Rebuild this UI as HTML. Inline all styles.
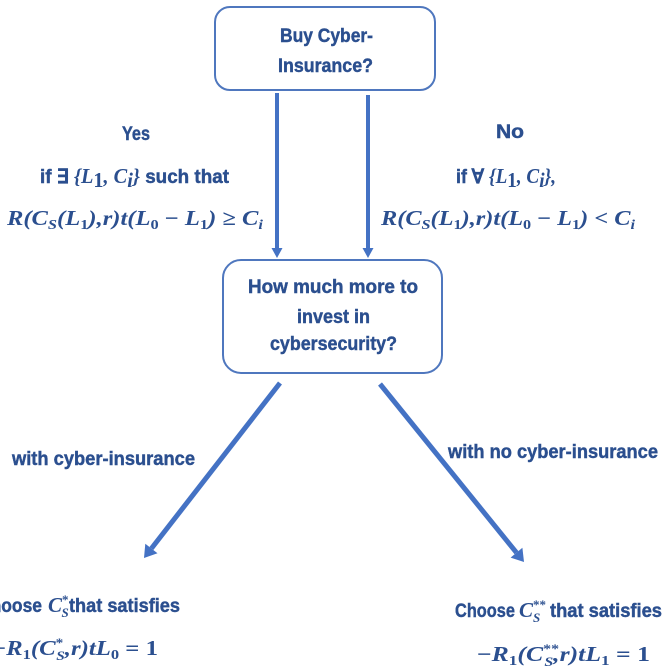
<!DOCTYPE html>
<html>
<head>
<meta charset="utf-8">
<style>
  html,body{margin:0;padding:0;background:#ffffff;}
  body{width:666px;height:669px;overflow:hidden;}
  svg{display:block;}
  .s{font-family:"Liberation Sans",Arial,sans-serif;font-weight:bold;font-size:19.5px;fill:#2B4F8F;stroke:#2B4F8F;stroke-width:0.45px;}
  .m{font-family:"Liberation Serif","DejaVu Serif",serif;font-weight:bold;font-style:italic;font-size:21px;fill:#2B4F8F;stroke:none;}
  .u{font-style:normal;}
</style>
</head>
<body>
<svg width="666" height="669" viewBox="0 0 666 669" xmlns="http://www.w3.org/2000/svg">
  <!-- boxes -->
  <rect x="215" y="7" width="220" height="83" rx="15" ry="15" fill="#fff" stroke="#4F77BE" stroke-width="2"/>
  <rect x="223" y="260" width="219" height="113" rx="18" ry="18" fill="#fff" stroke="#4F77BE" stroke-width="2"/>

  <!-- vertical arrows -->
  <line x1="277" y1="93" x2="277" y2="251" stroke="#4472C4" stroke-width="4"/>
  <polygon points="271.5,248 282.5,248 277,258" fill="#4472C4"/>
  <line x1="368" y1="95" x2="368" y2="251" stroke="#4472C4" stroke-width="4"/>
  <polygon points="362.5,248 373.5,248 368,258" fill="#4472C4"/>

  <!-- diagonal arrows -->
  <line x1="280" y1="383" x2="151.4" y2="548.5" stroke="#4472C4" stroke-width="5"/>
  <polygon points="144,558 157.5,553.3 145.3,543.7" fill="#4472C4"/>
  <line x1="380" y1="384" x2="516.5" y2="552.7" stroke="#4472C4" stroke-width="5"/>
  <polygon points="524,562 510.6,557.6 522.4,547.8" fill="#4472C4"/>

  <!-- box texts -->
  <text class="s" x="280" y="42" textLength="93" lengthAdjust="spacingAndGlyphs">Buy Cyber-</text>
  <text class="s" x="278" y="72" textLength="95" lengthAdjust="spacingAndGlyphs">Insurance?</text>

  <text class="s" x="248" y="293" textLength="170" lengthAdjust="spacingAndGlyphs">How much more to</text>
  <text class="s" x="297" y="323" textLength="73" lengthAdjust="spacingAndGlyphs">invest in</text>
  <text class="s" x="270" y="350" textLength="127" lengthAdjust="spacingAndGlyphs">cybersecurity?</text>

  <!-- Yes branch -->
  <text class="s" x="122" y="140" textLength="28" lengthAdjust="spacingAndGlyphs">Yes</text>
  <text class="s" x="40" y="183" textLength="189" lengthAdjust="spacingAndGlyphs">if ∃ <tspan class="m">{L</tspan><tspan class="m u" font-size="14" dy="4">1</tspan><tspan class="m" dy="-4">, C</tspan><tspan class="m" font-size="14" dy="4">i</tspan><tspan class="m" dy="-4">}</tspan> such that</text>
  <text class="m" x="7" y="225" textLength="256" lengthAdjust="spacingAndGlyphs">R(C<tspan font-size="14" dy="4">S</tspan><tspan dy="-4">(L</tspan><tspan class="u" font-size="14" dy="4">1</tspan><tspan dy="-4">),r)t(L</tspan><tspan class="u" font-size="14" dy="4">0</tspan><tspan dy="-4" class="u"> − </tspan><tspan>L</tspan><tspan class="u" font-size="14" dy="4">1</tspan><tspan dy="-4">) </tspan><tspan class="u">≥</tspan><tspan> C</tspan><tspan font-size="14" dy="4">i</tspan></text>

  <!-- No branch -->
  <text class="s" x="496" y="138" textLength="28" lengthAdjust="spacingAndGlyphs">No</text>
  <text class="s" x="456" y="183" textLength="100" lengthAdjust="spacingAndGlyphs">if ∀ <tspan class="m">{L</tspan><tspan class="m u" font-size="14" dy="4">1</tspan><tspan class="m" dy="-4">, C</tspan><tspan class="m" font-size="14" dy="4">i</tspan><tspan class="m" dy="-4">},</tspan></text>
  <text class="m" x="381" y="225" textLength="254" lengthAdjust="spacingAndGlyphs">R(C<tspan font-size="14" dy="4">S</tspan><tspan dy="-4">(L</tspan><tspan class="u" font-size="14" dy="4">1</tspan><tspan dy="-4">),r)t(L</tspan><tspan class="u" font-size="14" dy="4">0</tspan><tspan dy="-4" class="u"> − </tspan><tspan>L</tspan><tspan class="u" font-size="14" dy="4">1</tspan><tspan dy="-4">) </tspan><tspan class="u">&lt;</tspan><tspan> C</tspan><tspan font-size="14" dy="4">i</tspan></text>

  <!-- diagonal labels -->
  <text class="s" x="12" y="465" textLength="183" lengthAdjust="spacingAndGlyphs">with cyber-insurance</text>
  <text class="s" x="448" y="458" textLength="210" lengthAdjust="spacingAndGlyphs">with no cyber-insurance</text>

  <!-- bottom left -->
  <text class="s" x="-22" y="612" textLength="64" lengthAdjust="spacingAndGlyphs">Choose</text>
  <text class="m" x="48" y="612">C<tspan font-size="13" dy="-8" class="u">*</tspan><tspan font-size="13" dx="-7" dy="13">S</tspan></text>
  <text class="s" x="69" y="612" textLength="111" lengthAdjust="spacingAndGlyphs">that satisfies</text>
  <text class="m" x="-8" y="655" textLength="166" lengthAdjust="spacingAndGlyphs"><tspan class="u">−</tspan>R<tspan class="u" font-size="14" dy="4">1</tspan><tspan dy="-4">(C</tspan><tspan class="u" font-size="13" dy="-8">*</tspan><tspan font-size="13" dx="-6" dy="13">S</tspan><tspan dy="-5">,r)tL</tspan><tspan class="u" font-size="14" dy="4">0</tspan><tspan class="u" dy="-4"> = 1</tspan></text>

  <!-- bottom right -->
  <text class="s" x="455" y="617" textLength="60" lengthAdjust="spacingAndGlyphs">Choose</text>
  <text class="m" x="519" y="617">C<tspan font-size="13" dy="-8" class="u">**</tspan><tspan font-size="13" dx="-13" dy="13">S</tspan></text>
  <text class="s" x="550" y="617" textLength="112" lengthAdjust="spacingAndGlyphs">that satisfies</text>
  <text class="m" x="477" y="661" textLength="173" lengthAdjust="spacingAndGlyphs"><tspan class="u">−</tspan>R<tspan class="u" font-size="14" dy="4">1</tspan><tspan dy="-4">(C</tspan><tspan class="u" font-size="13" dy="-8">**</tspan><tspan font-size="13" dx="-12" dy="13">S</tspan><tspan dy="-5">,r)tL</tspan><tspan class="u" font-size="14" dy="4">1</tspan><tspan class="u" dy="-4"> = 1</tspan></text>
</svg>
</body>
</html>
